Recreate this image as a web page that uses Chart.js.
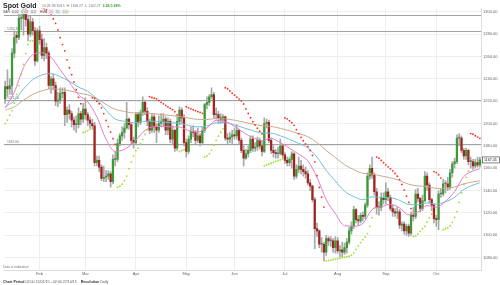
<!DOCTYPE html>
<html>
<head>
<meta charset="utf-8">
<title>Spot Gold</title>
<script src="https://cdn.jsdelivr.net/npm/chart.js@4.4.1/dist/chart.umd.min.js"></script>
<style>
  html, body { margin: 0; padding: 0; background: #fff; }
  #wrap { position: relative; width: 500px; height: 285px; overflow: hidden; }
</style>
</head>
<body>
<div id="wrap"><canvas id="chart" width="500" height="285"></canvas></div>
<script>
// daily candles, first trading day 12 Jan 2015 (weekdays only)
var startDate = '2015-01-12';
var monthTicks = ['Feb', 'Mar', 'Apr', 'May', 'Jun', 'Jul', 'Aug', 'Sep', 'Oct'];
var yTicks = [1080, 1100, 1120, 1140, 1160, 1180, 1200, 1220, 1240, 1260, 1280, 1300];

var open = [
  1222,1233,1231,1234,1263,1279,1277,1294,1294,1301,1293,1280,1291,1283,1256,
  1283,1275,1261,1268,1263,1234,1240,1234,1220,1221,1227,1228,1208,1212,1209,1203,1199,1199,1209,1204,
  1213,1208,1203,1200,1198,1165,1167,1161,1151,1152,1153,1155,1148,1168,1168,1182,1189,1192,1196,1204,1199,1185,
  1183,1208,1201,1210,1219,1211,1202,1194,1206,1197,1194,1200,1202,1204,1194,1202,1186,1194,1178,1202,1212,1205,
  1183,1175,1186,1193,1192,1185,1189,1183,1194,1217,1219,1224,1226,1208,1208,1205,1204,1206,1187,1186,1188,
  1190,1189,1194,1185,1176,1169,1173,1176,1186,1178,1179,1185,1180,1175,1200,1201,1185,1176,1174,1173,1173,1180,
  1172,1167,1165,1168,1173,1153,1159,1162,1159,1157,1155,1147,1144,1132,1106,1104,1092,1092,1085,1097,1095,1095,1089,
  1095,1086,1087,1085,1089,1094,1104,1108,1123,1114,1113,1118,1117,1127,1153,1160,1154,1139,1125,1125,1134,
  1132,1139,1134,1124,1121,1120,1121,1109,1110,1104,1108,1102,1118,1117,1137,1133,1124,1131,1153,1145,1132,1127,
  1115,1114,1137,1137,1146,1146,1143,1156,1164,1166,1187,1187,1176,1171,1176,1166,1166,1162,1165,1163
];
var high = [
  1238,1248,1240,1267,1283,1282,1298,1298,1307,1304,1297,1296,1294,1286,1285,
  1287,1280,1276,1272,1265,1242,1244,1237,1228,1232,1232,1232,1215,1217,1211,1206,1207,1214,1211,1218,
  1223,1210,1206,1204,1201,1171,1171,1163,1162,1158,1158,1157,1172,1175,1186,1191,1197,1200,1219,1205,1201,1188,
  1210,1210,1212,1224,1221,1214,1204,1209,1208,1200,1207,1209,1209,1206,1205,1204,1198,1195,1206,1215,1214,1208,
  1186,1189,1197,1198,1194,1196,1191,1197,1218,1224,1226,1232,1228,1214,1211,1209,1208,1207,1191,1192,1194,
  1196,1199,1195,1187,1180,1177,1180,1189,1189,1183,1188,1187,1184,1205,1204,1203,1187,1180,1177,1179,1186,1181,
  1174,1170,1170,1175,1174,1163,1170,1167,1163,1161,1158,1150,1145,1134,1111,1105,1098,1094,1100,1099,1099,1097,1099,
  1098,1091,1094,1093,1097,1107,1112,1126,1124,1118,1120,1121,1129,1156,1163,1170,1156,1142,1130,1138,1138,
  1147,1142,1136,1127,1124,1125,1123,1112,1112,1110,1110,1121,1125,1141,1142,1134,1136,1157,1156,1147,1133,1128,
  1118,1140,1142,1150,1149,1152,1159,1166,1169,1190,1191,1189,1178,1178,1177,1170,1168,1168,1170,1170
];
var low = [
  1218,1224,1226,1226,1259,1272,1275,1284,1279,1287,1274,1278,1279,1252,1255,
  1271,1258,1256,1258,1231,1227,1230,1216,1215,1218,1223,1198,1201,1204,1197,1194,1192,1196,1199,1201,
  1204,1198,1196,1195,1162,1162,1157,1149,1148,1148,1150,1143,1146,1162,1166,1180,1185,1187,1195,1195,1182,1178,
  1182,1197,1199,1207,1208,1198,1191,1192,1192,1183,1192,1198,1198,1190,1190,1183,1182,1175,1176,1199,1200,1180,
  1170,1173,1183,1188,1182,1183,1180,1181,1192,1213,1216,1222,1205,1204,1200,1200,1201,1185,1182,1183,1182,
  1186,1186,1182,1174,1162,1168,1170,1174,1175,1175,1176,1177,1171,1174,1196,1183,1173,1170,1169,1169,1172,1169,
  1164,1162,1162,1160,1150,1151,1156,1155,1153,1151,1145,1140,1130,1088,1099,1089,1085,1077,1082,1091,1090,1085,1084,
  1084,1081,1081,1083,1084,1092,1101,1106,1111,1109,1111,1113,1115,1125,1150,1151,1136,1119,1118,1122,1128,
  1128,1131,1122,1117,1117,1115,1106,1104,1101,1100,1099,1100,1113,1115,1130,1121,1122,1130,1140,1129,1122,1111,
  1108,1105,1134,1135,1138,1140,1141,1152,1160,1164,1180,1174,1168,1168,1163,1160,1159,1160,1161,1161
];
var close = [
  1233,1231,1234,1263,1277,1277,1294,1294,1301,1293,1280,1291,1283,1256,1283,
  1275,1261,1268,1263,1234,1240,1234,1220,1221,1227,1228,1208,1212,1209,1203,1199,1199,1209,1204,1213,
  1208,1203,1200,1198,1165,1167,1161,1151,1152,1153,1155,1148,1168,1168,1182,1189,1192,1196,1204,1199,1185,1183,
  1208,1201,1210,1219,1211,1202,1194,1206,1197,1194,1200,1202,1204,1194,1202,1186,1194,1178,1202,1212,1205,1183,
  1175,1186,1193,1192,1185,1189,1183,1194,1217,1219,1224,1226,1208,1208,1205,1204,1206,1187,1186,1188,1190,
  1189,1194,1185,1176,1169,1173,1176,1186,1178,1179,1185,1180,1175,1200,1201,1185,1176,1174,1173,1173,1180,1172,
  1167,1165,1168,1173,1153,1159,1162,1159,1157,1155,1147,1144,1132,1106,1104,1092,1092,1085,1097,1095,1095,1089,1095,
  1086,1087,1085,1089,1094,1104,1108,1123,1114,1113,1118,1117,1127,1153,1160,1154,1139,1125,1125,1134,1132,
  1139,1134,1124,1121,1120,1121,1109,1110,1104,1108,1102,1118,1117,1137,1133,1124,1131,1153,1145,1132,1127,1115,
  1114,1137,1137,1146,1146,1143,1156,1164,1166,1187,1187,1176,1171,1176,1166,1166,1162,1165,1163,1167.45
];

// moving averages, one value every 4th candle (last one = last candle)
var emaStep = 4;
var ema20 = [1214,1228,1250,1261.5,1263.2,1259.3,1248.2,1237.0,1225.6,1219.5,1206,1186,1175,1177,1183,1192,1197.0,1197.4,1197.1,1196.9,1193.7,1192.4,1196.0,1202.7,1202.0,1197.4,1191.9,1187.4,1184.8,1186.7,1182.9,1178.0,1172.6,1166.6,1151.8,1132.0,1119.4,1108.6,1108.2,1110.6,1123.1,1125.6,1127.8,1124.5,1118.4,1120.9,1126.6,1125.1,1130.4,1139.2,1152.7,1157.6,1159.5];
var ema50 = [1215,1220.4,1230.9,1239.1,1243.5,1244.7,1241.9,1237.8,1232.6,1228.8,1221.9,1211.9,1204.1,1202.0,1200.6,1201.9,1202.1,1201.5,1200.8,1200.2,1198.3,1197.0,1197.9,1200.6,1200.6,1198.8,1196.2,1193.6,1191.5,1191.4,1189.0,1185.9,1182.3,1178.2,1169.8,1158.2,1148.6,1139.4,1134.7,1131.9,1134.4,1133.9,1133.7,1131.3,1127.6,1127.4,1129.0,1128.0,1130.0,1134.1,1141.0,1144.9,1147.1];
var ema100 = [1212,1215.0,1220.9,1226.0,1229.3,1231.0,1230.5,1229.3,1227.3,1225.7,1222.3,1217.1,1212.7,1210.9,1209.5,1209.5,1209.0,1208.1,1207.2,1206.4,1204.9,1203.7,1203.6,1204.5,1204.2,1203.0,1201.3,1199.5,1198.0,1197.4,1195.7,1193.5,1191.0,1188.2,1183.0,1175.9,1169.6,1163.2,1158.8,1155.5,1154.9,1153.1,1151.5,1149.0,1145.7,1144.2,1143.7,1142.0,1142.0,1143.2,1146.1,1147.8,1148.8];

// parabolic SAR, one dot per candle
var sar = [
  1200,1203,1207.5,1211.6,1218.2,1226,1234,1244.2,1252.8,1262.6,1270.6,1274,1274,
  1307,1305.9,1304.8,1303.7,1302.7,1301.7,1300.7,1297.9,1293.6,1289.6,1283.7,1276.8,1270.6,1265,1257,1249.9,1243.7,1237.2,1230.3,1223.4,1217.7,
  1192,1192.5,1193.7,1194.9,
  1223,1222.4,1220,1217.7,1214.1,1208.9,1202.8,1197.3,1192.4,1186.5,1181.3,
  1143,1143.9,1145.8,1148.9,1153,1159.6,1165.5,1170.9,1175.7,1178,1182,1185.7,1190.3,1194.3,
  1224,1223.3,1222.7,1222.1,1220.5,1219,1217.6,1216.2,1214.9,1213.6,1212.4,1210.6,1207.8,
  1175,1175.8,1176.6,
  1215,1214.1,1213.2,1212.3,1211.5,1210.7,1209.9,1209.1,
  1170,1171,1173.1,1176.3,1180.8,1184.9,1188.7,1192.2,1195.4,
  1232,1231.1,1229.1,1227.2,1225.4,1223.6,1221.9,1220.3,1217.5,1213.1,1209,1205.2,1201.7,1198.6,1195.8,1193.2,1190.8,
  1162,1162.9,1163.7,1164.5,1165.3,1166.1,1166.9,1167.6,1168.4,
  1205,1204.2,1202.5,1200.8,1198.4,1194.5,1190.9,1187.6,1184.6,1181.8,1179.3,1175.9,1171.6,1165.8,1153.4,1142.9,1134.1,1125.3,
  1077,1077.5,1077.9,1078.4,1078.8,1079.2,1079.6,1080.1,1080.5,1080.9,1081.3,1082.3,1084.1,1087.5,1090.6,1093.5,1096.1,1098.5,1101.6,1108.1,1115.8,1124.5,
  1170,1169,1167,1165,1163.1,1161.3,1159.5,1157.7,1155.3,1152.9,1149.9,1145.5,1140.5,1135,1129.4,1123.9,
  1099,1099.5,1101.2,1103.6,1105.9,1108.1,1112,1115.6,1118.9,
  1157,1156.1,1154.2,1151.2,
  1105,1105.9,1106.8,1108.6,1111.6,1116,1121.3,1129.5,1138.1,1145.5,1151.9,1157.4,
  1191,1190.4,1189.1,1187.9,1186.8
];

// horizontal support / resistance lines
var levels = [1297.15, 1282.35, 1221.00, 1182.00];
var levelLabels = ['', '1282.35', '1221.00', '1182.00'];

var FONT = '"Liberation Sans", Arial, sans-serif';

// trading days
var dates = [];
var d = new Date(startDate + 'T00:00:00Z');
while (dates.length < close.length) {
  var wd = d.getUTCDay();
  if (wd > 0 && wd < 6) dates.push(d.toISOString().slice(0, 10));
  d.setUTCDate(d.getUTCDate() + 1);
}
var monthStarts = [];
dates.forEach(function(s, i) {
  if (i > 0 && s.slice(5, 7) !== dates[i - 1].slice(5, 7)) monthStarts.push(i);
});

function sparse(arr) {
  var out = dates.map(function() { return null; });
  arr.forEach(function(v, k) { out[Math.min(k * emaStep, dates.length - 1)] = v; });
  return out;
}

var bodyColors = close.map(function(c, i) {
  if (c > open[i]) return '#3a9a34';
  if (c < open[i]) return '#a3231f';
  return '#777777';
});
var sarColors = sar.map(function(v, i) { return v > close[i] ? '#ff2b1c' : '#9ee02a'; });

function runs(ctx, x, y, parts) {
  parts.forEach(function(p) {
    ctx.font = p[1];
    ctx.fillStyle = p[2];
    ctx.fillText(p[0], x, y);
    x += ctx.measureText(p[0]).width;
  });
  return x;
}

function tag(ctx, x, y, text, color) {
  ctx.font = '3.4px ' + FONT;
  var w = ctx.measureText(text).width + 2;
  ctx.fillStyle = '#ececec';
  ctx.fillRect(x, y - 3.5, w, 4.6);
  ctx.fillStyle = color;
  ctx.fillText(text, x + 1, y);
  return x + w + 1;
}

var overlay = {
  id: 'overlay',
  beforeDatasetsDraw: function(chart) {
    var ctx = chart.ctx, a = chart.chartArea, ys = chart.scales.y;
    ctx.save();
    levels.forEach(function(v, k) {
      var py = Math.round(ys.getPixelForValue(v)) + 0.5;
      ctx.strokeStyle = '#a2a2a2';
      ctx.lineWidth = 1.2;
      ctx.beginPath();
      ctx.moveTo(a.left, py);
      ctx.lineTo(a.right, py);
      ctx.stroke();
      if (levelLabels[k]) {
        ctx.fillStyle = '#777';
        ctx.font = '3.4px ' + FONT;
        ctx.fillText(levelLabels[k], a.left + 3, py - 2);
      }
    });
    ctx.restore();
  },
  afterDraw: function(chart) {
    var ctx = chart.ctx, a = chart.chartArea, ys = chart.scales.y;
    ctx.save();
    ctx.textBaseline = 'alphabetic';

    // title row
    ctx.font = 'bold 7px ' + FONT;
    ctx.fillStyle = '#222';
    ctx.fillText('Spot Gold', 3, 8);
    var x = runs(ctx, 42, 7, [
      ['10:28 28/10/15  H: 1168.27  L: 1162.27  ', '3.4px ' + FONT, '#777']
    ]);
    runs(ctx, x, 7, [['3.28 0.28%', 'bold 3.6px ' + FONT, '#2e9e2e']]);

    // indicator row
    ctx.font = '3.4px ' + FONT;
    ctx.fillStyle = '#555';
    ctx.fillText('SAR', 3, 13);
    x = tag(ctx, 11, 13, '0.02', '#666');
    x = tag(ctx, x, 13, '0.02', '#666');
    x = tag(ctx, x, 13, '0.2', '#666');
    ctx.fillStyle = '#555';
    ctx.font = '3.4px ' + FONT;
    ctx.fillText('EMA', 40, 13);
    x = tag(ctx, 48, 13, '20', '#e070c0');
    x = tag(ctx, x, 13, '50', '#5fb6cc');
    tag(ctx, x, 13, '100', '#bf9f7f');

    // last price box
    var last = close[close.length - 1];
    var py = ys.getPixelForValue(last);
    ctx.fillStyle = '#fff';
    ctx.fillRect(a.right + 1.5, py - 3, 17, 6);
    ctx.strokeStyle = '#333';
    ctx.lineWidth = 0.6;
    ctx.strokeRect(a.right + 1.5, py - 3, 17, 6);
    ctx.fillStyle = '#222';
    ctx.font = '3.6px ' + FONT;
    ctx.fillText(last.toFixed(2), a.right + 3, py + 1.3);

    // notes
    ctx.fillStyle = '#777';
    ctx.font = '3.4px ' + FONT;
    ctx.fillText('Data is indicative', 3, a.bottom - 2);
    runs(ctx, 3, 283, [
      ['Chart Period ', 'bold 3.6px ' + FONT, '#333'],
      ['02:00 12/01/15 - 02:00 27/10/15    ', '3.6px ' + FONT, '#555'],
      ['Resolution ', 'bold 3.6px ' + FONT, '#333'],
      ['Daily', '3.6px ' + FONT, '#555']
    ]);
    ctx.restore();
  }
};

var chart = new Chart(document.getElementById('chart'), {
  type: 'bar',
  data: {
    labels: dates,
    datasets: [
      {
        label: 'SAR', type: 'line', data: sar, showLine: false,
        pointRadius: 0.9, pointBorderWidth: 0,
        pointBackgroundColor: sarColors, order: 0
      },
      {
        label: 'EMA 20', type: 'line', data: sparse(ema20), spanGaps: true,
        borderColor: '#e47cc6', borderWidth: 1, pointRadius: 0,
        cubicInterpolationMode: 'monotone', order: 1
      },
      {
        label: 'EMA 50', type: 'line', data: sparse(ema50), spanGaps: true,
        borderColor: '#72bfd3', borderWidth: 1, pointRadius: 0,
        cubicInterpolationMode: 'monotone', order: 1
      },
      {
        label: 'EMA 100', type: 'line', data: sparse(ema100), spanGaps: true,
        borderColor: '#c9aa8a', borderWidth: 1, pointRadius: 0,
        cubicInterpolationMode: 'monotone', order: 1
      },
      {
        label: 'body', data: open.map(function(o, i) { return [o, close[i]]; }),
        backgroundColor: bodyColors, barThickness: 1.6, minBarLength: 1,
        grouped: false, order: 2
      },
      {
        label: 'wick', data: low.map(function(l, i) { return [l, high[i]]; }),
        backgroundColor: '#a8a8a8', barThickness: 1,
        grouped: false, order: 3
      }
    ]
  },
  options: {
    responsive: false,
    animation: false,
    devicePixelRatio: 1,
    layout: { padding: { top: 8.5, bottom: 9, left: 0, right: 0 } },
    plugins: { legend: { display: false }, tooltip: { enabled: false } },
    scales: {
      x: {
        offset: true,
        afterBuildTicks: function(s) { s.ticks = monthStarts.map(function(i) { return { value: i }; }); },
        afterFit: function(s) { s.height = 6; },
        ticks: {
          autoSkip: false, maxRotation: 0, padding: 1, color: '#666',
          font: { size: 4, family: FONT },
          callback: function(v, k) { return monthTicks[k]; }
        },
        grid: { offset: false, color: '#eeeeee', drawTicks: false },
        border: { color: '#dddddd' }
      },
      y: {
        position: 'right',
        min: 1069, max: 1302.9,
        afterBuildTicks: function(s) { s.ticks = yTicks.map(function(v) { return { value: v }; }); },
        afterFit: function(s) { s.width = 19; },
        ticks: {
          padding: 2, color: '#666',
          font: { size: 4, family: FONT },
          callback: function(v) { return v.toFixed(2); }
        },
        grid: { color: '#eeeeee', drawTicks: false },
        border: { color: '#dddddd' }
      }
    }
  },
  plugins: [overlay]
});
</script>
</body>
</html>
